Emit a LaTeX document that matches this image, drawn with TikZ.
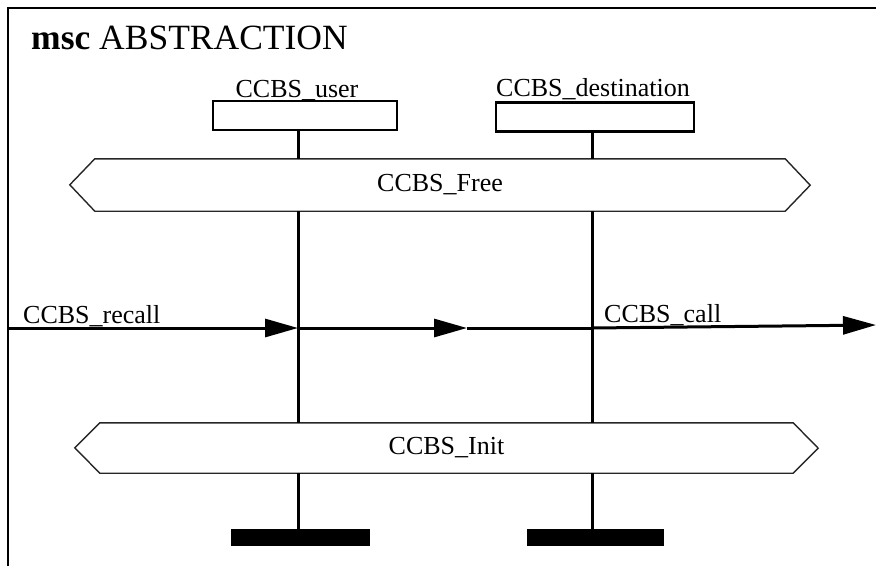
\documentclass[tikz,border=0pt]{standalone}
\usepackage{fontspec}
\setmainfont{Liberation Serif}
\usetikzlibrary{arrows.meta}
\begin{document}
\begin{tikzpicture}[x=1pt,y=-1pt,
  txt/.style={font=\fontsize{26}{30}\selectfont, inner sep=0pt},
  instbox/.style={draw, line width=2.2pt, minimum height=29pt, inner sep=0pt},
  condtext/.style={txt, minimum height=52pt},
  hexline/.style={line width=1.4pt, draw=black!85},
  lifeline/.style={line width=3pt},
  msg/.style={line width=3pt, -{Triangle[length=33pt,width=18pt]}},
  stopbar/.style={fill=black, inner sep=0pt, minimum height=17pt}
]
\useasboundingbox (0,0) rectangle (876,566);
% frame
\coordinate (fbl) at (8,566);
\coordinate (ftl) at (8,8);
\coordinate (ftr) at (876,8);
\draw[line width=2pt] (fbl) -- (ftl) -- (ftr);
\node[anchor=base west, inner sep=0pt, font=\fontsize{35.5}{40}\selectfont] (title) at (31,49) {\textbf{msc} ABSTRACTION};

% instances
\node[instbox, minimum width=184pt] (user) at (305,115.5) {};
\node[instbox, minimum width=198pt] (dest) at (595,117) {};
\node[txt, anchor=base] (userlbl) at (297,97) {CCBS\_user};
\node[txt, anchor=base] (destlbl) at (593,96) {CCBS\_destination};

% conditions
\node[condtext, minimum width=690pt] (free) at (440,185) {CCBS\_Free};
\draw[hexline] (free.north west) -- ++(-25,26) -- (free.south west) -- (free.south east) -- ++(25,-26) -- (free.north east) -- cycle;
\node[condtext, minimum width=693pt, minimum height=50pt] (init) at (446.5,448) {CCBS\_Init};
\draw[hexline] (init.north west) -- ++(-25,25) -- (init.south west) -- (init.south east) -- ++(25,-25) -- (init.north east) -- cycle;

% stop bars
\node[stopbar, minimum width=139pt] (ustop) at (300.5,537.5) {};
\node[stopbar, minimum width=137pt] (dstop) at (595.5,537.5) {};

% lifelines
\coordinate (ux) at (298,0);
\coordinate (dx) at (592,0);
\draw[lifeline] (ux |- user.south) -- (ux |- free.north);
\draw[lifeline] (ux |- free.south) -- (ux |- init.north);
\draw[lifeline] (ux |- init.south) -- (ux |- ustop.north);
\draw[lifeline] (dx |- dest.south) -- (dx |- free.north);
\draw[lifeline] (dx |- free.south) -- (dx |- init.north);
\draw[lifeline] (dx |- init.south) -- (dx |- dstop.north);

% messages
\coordinate (envl) at (8,328);
\coordinate (u1) at (298,328);
\coordinate (mid) at (467,328);
\coordinate (d1) at (592,328);
\coordinate (envr) at (876,325);
\draw[msg] (envl) -- (u1);
\draw[msg] (u1) -- (mid);
\draw[line width=3pt] (mid) -- (d1);
\draw[msg] (d1) -- (envr);
\node[txt, anchor=base west] (recalllbl) at (23,323) {CCBS\_recall};
\node[txt, anchor=base west] (calllbl) at (604,322) {CCBS\_call};
\end{tikzpicture}
\end{document}
